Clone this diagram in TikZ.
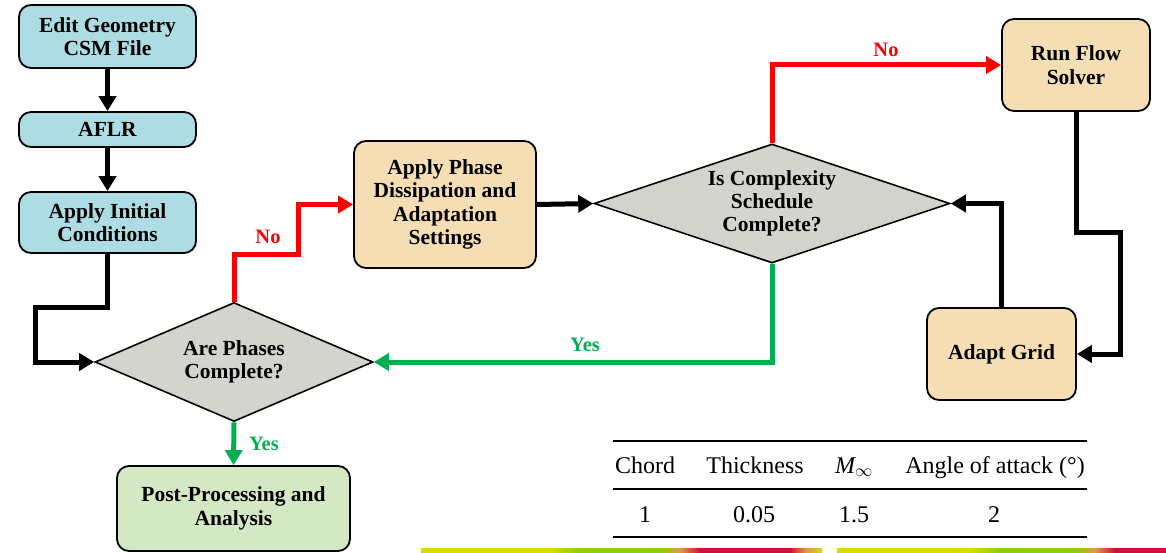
\documentclass[tikz,border=0pt]{standalone}
\usepackage{fontspec}
\setmainfont{Liberation Serif}
\usetikzlibrary{arrows.meta,shapes.geometric}

\definecolor{boxcyan}{HTML}{ADDCE3}
\definecolor{boxwheat}{HTML}{F5DEB3}
\definecolor{boxgreen}{HTML}{D5E8C4}
\definecolor{decgray}{HTML}{D4D4CF}
\definecolor{nored}{HTML}{FF0000}
\definecolor{yesgreen}{HTML}{00B050}
\definecolor{barY}{HTML}{D8DA00}
\definecolor{barG}{HTML}{8CCF0A}
\definecolor{barO}{HTML}{E39A3A}
\definecolor{barR}{HTML}{C8143C}

\tikzset{
  proc/.style={draw=black, line width=1.8pt, rounded corners=12pt, align=center,
    inner sep=0pt, font=\bfseries\fontsize{21.5}{23.5}\selectfont},
  decision/.style={diamond, aspect=3, draw=black, line width=1.6pt, fill=decgray,
    align=center, inner sep=0pt, font=\bfseries\fontsize{21.5}{23}\selectfont},
  flow/.style={line width=5pt, -{Triangle[length=15pt,width=17pt]}},
  flowno/.style={flow, draw=nored},
  flowyes/.style={flow, draw=yesgreen},
  lblno/.style={text=nored, font=\bfseries\fontsize{20.5}{24}\selectfont, inner sep=0pt},
  lblyes/.style={text=yesgreen, font=\bfseries\fontsize{20.5}{24}\selectfont, inner sep=0pt},
  tab/.style={font=\fontsize{24}{28}\selectfont, anchor=base, inner sep=0pt},
}

\begin{document}
\begin{tikzpicture}[x=1pt,y=-1pt]
\useasboundingbox (0,0) rectangle (1166,553);

% process boxes
\node[proc, fill=boxcyan, minimum width=177pt, minimum height=63pt] (edit) at (107.5,36.5) {Edit Geometry\\CSM File};
\node[proc, fill=boxcyan, minimum width=177pt, minimum height=35pt] (aflr) at (107.5,129.5) {AFLR};
\node[proc, fill=boxcyan, minimum width=177pt, minimum height=61pt] (init) at (107.5,222.5) {Apply Initial\\Conditions};
\node[proc, fill=boxgreen, minimum width=233pt, minimum height=85pt] (post) at (233.5,508.5) {Post-Processing and\\Analysis};
\node[proc, fill=boxwheat, minimum width=182pt, minimum height=127pt] (phase) at (445,204.5) {Apply Phase\\Dissipation and\\Adaptation\\Settings};
\node[proc, fill=boxwheat, minimum width=148pt, minimum height=92pt] (run) at (1076,65) {Run Flow\\Solver};
\node[proc, fill=boxwheat, minimum width=149pt, minimum height=92pt] (grid) at (1001.5,354) {Adapt Grid};

% decisions
\node[decision, minimum width=278pt, minimum height=119pt] (phases) at (234,362) {Are Phases\\Complete?};
\node[decision, minimum width=356pt, minimum height=119pt] (cx) at (772,203.5) {Is Complexity\\Schedule\\Complete?};

% bend points
\coordinate (j1) at (35,307);
\coordinate (j2) at (298,254);
\coordinate (j3) at (1120,233);

% connectors
\draw[flow] (edit) -- (aflr);
\draw[flow] (aflr) -- (init);
\draw[flow] (init.south) |- (j1) |- (phases.west);
\draw[flowno] (phases.north) |- (j2) |- (phase.west);
\draw[flow] (phase.east) -- (cx.west);
\draw[flowno] (cx.north) |- (run.west);
\draw[flow] (run.south) |- (j3) |- (grid.east);
\draw[flow] (grid.north) |- (cx.east);
\draw[flowyes] (cx.south) |- (phases.east);
\draw[flowyes] (phases.south) -- (post.north);

% branch labels
\node[lblno] (no1) at (268,237) {No};
\node[lblno] (no2) at (886,50) {No};
\node[lblyes] (yes1) at (585,345) {Yes};
\node[lblyes] (yes2) at (264,444) {Yes};

% parameter table
\draw[line width=1.6pt] (613,441) -- (1087,441);
\draw[line width=1.1pt] (613,489) -- (1087,489);
\draw[line width=1.6pt] (613,537) -- (1087,537);
\node[tab] (hchord) at (645,473) {Chord};
\node[tab] (hthick) at (755,473) {Thickness};
\node[tab] (hmach) at (854,473) {\itshape M\upshape$_{\infty}$};
\node[tab] (haoa) at (995,473) {Angle of attack (°)};
\node[tab] (vchord) at (645,522) {1};
\node[tab] (vthick) at (754,522) {0.05};
\node[tab] (vmach) at (854,522) {1.5};
\node[tab] (vaoa) at (994,522) {2};

% colour bars along the bottom edge
\shade[left color=barY, right color=barY] (421,548) rectangle (550,553);
\shade[left color=barY, right color=barG] (550,548) rectangle (580,553);
\shade[left color=barG, right color=barG] (580,548) rectangle (660,553);
\shade[left color=barG, right color=barO] (660,548) rectangle (680,553);
\shade[left color=barO, right color=barR] (680,548) rectangle (700,553);
\shade[left color=barR, right color=barR] (700,548) rectangle (790,553);
\shade[left color=barR, right color=barO] (790,548) rectangle (806,553);
\shade[left color=barO, right color=barY] (806,548) rectangle (822,553);
\shade[left color=barY, right color=barY] (837,548) rectangle (970,553);
\shade[left color=barY, right color=barG] (970,548) rectangle (1000,553);
\shade[left color=barG, right color=barG] (1000,548) rectangle (1075,553);
\shade[left color=barG, right color=barO] (1075,548) rectangle (1095,553);
\shade[left color=barO, right color=barR] (1095,548) rectangle (1115,553);
\shade[left color=barR, right color=barR] (1115,548) rectangle (1166,553);
\end{tikzpicture}
\end{document}
